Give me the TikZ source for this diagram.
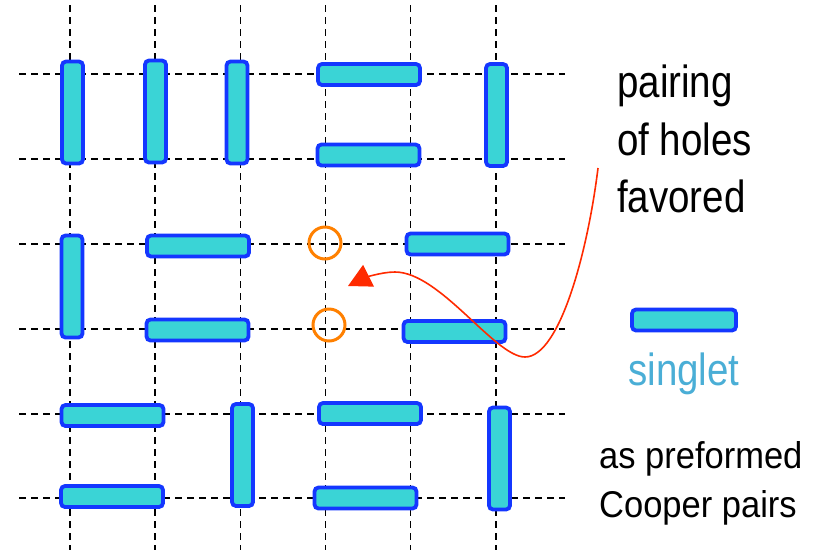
\documentclass[tikz,border=0pt]{standalone}
\usepackage{fontspec}
\setmainfont{Liberation Sans}
\usetikzlibrary{arrows.meta}
\definecolor{dimfill}{HTML}{3AD4D6}
\definecolor{dimedge}{HTML}{1437FF}
\definecolor{holeor}{HTML}{FF8000}
\definecolor{arrred}{HTML}{FF2A00}
\definecolor{singblue}{HTML}{4AAED6}
\newcommand{\tallbig}[1]{\scalebox{1}[1.17]{#1}}
\newcommand{\tallsmall}[1]{\scalebox{1}[1.08]{#1}}
\tikzset{
  gridline/.style={black, line width=1.6pt, dash pattern=on 7pt off 5pt},
  dimer/.style={draw=dimedge, fill=dimfill, line width=3.8pt, rounded corners=4pt, inner sep=0pt, outer sep=0pt},
  dimv/.style={dimer, minimum width=21pt, minimum height=102pt},
  dimh/.style={dimer, minimum width=102pt, minimum height=21pt},
  hole/.style={draw=holeor, line width=3pt, circle, minimum size=32pt, inner sep=0pt},
  bigtxt/.style={anchor=base west, inner sep=0pt, font=\fontsize{38.5}{46}\selectfont},
  smalltxt/.style={anchor=base west, inner sep=0pt, font=\fontsize{34.5}{41}\selectfont},
  curvearrow/.style={arrred, line width=1.6pt, -{Triangle[length=23pt,width=24pt]}}
}
\begin{document}
\begin{tikzpicture}[x=1pt,y=-1pt]
\useasboundingbox (0,0) rectangle (819,550);
% grid
\foreach \gx in {70,155,240.5,325.5,410.5,496}{
  \draw[gridline] (\gx,5) -- (\gx,550);
}
\foreach \gy in {74,159,244,329,414,498}{
  \draw[gridline] (19,\gy) -- (565,\gy);
}
% holes
\node[hole] (h1) at (325,243) {};
\node[hole] (h2) at (329,325) {};
% vertical dimers
\node[dimv] (v1) at (72.5,112.5) {};
\node[dimv] (v2) at (155.5,111.5) {};
\node[dimv] (v3) at (237,112.5) {};
\node[dimv] (v4) at (496.5,115) {};
\node[dimv] (v5) at (72,286.5) {};
\node[dimv] (v6) at (242.5,455) {};
\node[dimv] (v7) at (499.5,458.5) {};
% horizontal dimers
\node[dimh] (d1) at (369,74.5) {};
\node[dimh] (d2) at (368.5,155) {};
\node[dimh] (d3) at (198,246) {};
\node[dimh] (d4) at (197.5,330) {};
\node[dimh] (d5) at (457.5,244) {};
\node[dimh] (d6) at (454.5,331.5) {};
\node[dimh] (d7) at (112.5,415.5) {};
\node[dimh] (d8) at (112,496.5) {};
\node[dimh] (d9) at (370,413.5) {};
\node[dimh] (d10) at (365.5,498) {};
% legend dimer
\node[dimh, minimum width=104pt] (leg) at (684,320) {};
% texts
\node[bigtxt] (t1) at (617,97) {\tallbig{pairing}};
\node[bigtxt] (t2) at (617,155) {\tallbig{of holes}};
\node[bigtxt] (t3) at (617,212) {\tallbig{favored}};
\node[bigtxt, text=singblue] (t4) at (628,385) {\tallbig{singlet}};
\node[smalltxt] (t5) at (599,468) {\tallsmall{as preformed}};
\node[smalltxt] (t6) at (599,517) {\tallsmall{Cooper pairs}};
% curved arrow
\coordinate (cs) at (598,168);
\coordinate (ct) at (348,286);
\draw[curvearrow] (cs) .. controls (588,250) and (560,357) .. (525,357)
  .. controls (495,357) and (440,272) .. (395,272)
  .. controls (380,272) and (362,279) .. (ct);
\end{tikzpicture}
\end{document}
